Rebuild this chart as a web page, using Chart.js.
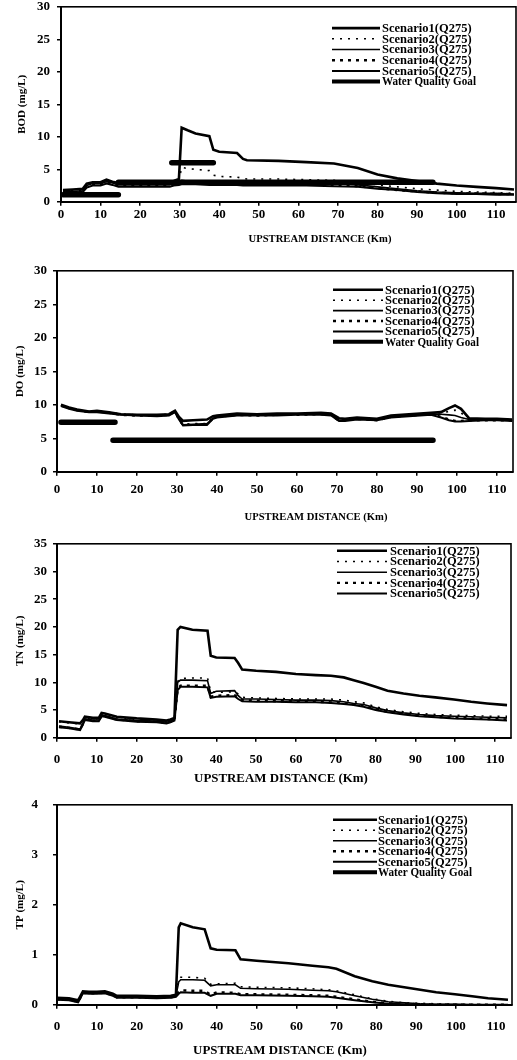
<!DOCTYPE html>
<html>
<head>
<meta charset="utf-8">
<script src="https://cdn.jsdelivr.net/npm/chart.js@4.4.1/dist/chart.umd.min.js"></script>
<style>
  body { margin: 0; background: #fff; width: 517px; height: 1060px; position: relative; overflow: hidden; }
  canvas { position: absolute; left: 0; }
</style>
</head>
<body>
<canvas id="bodChart"></canvas>
<canvas id="doChart"></canvas>
<canvas id="tnChart"></canvas>
<canvas id="tpChart"></canvas>
<script>
// series names
const scenarioLabels = ['Scenario1(Q275)', 'Scenario2(Q275)', 'Scenario3(Q275)', 'Scenario4(Q275)', 'Scenario5(Q275)'];
const goalLabel = 'Water Quality Goal';
const xTitleText = 'UPSTREAM DISTANCE (Km)';

// BOD (mg/L)
const bodDist = [0.5, 3, 5.5, 6.5, 8, 10, 11.5, 13, 14.5, 20, 27.5, 28.5, 29.8, 30.5, 32, 34, 37.5, 38.5, 40, 44.5, 46, 47, 55, 62, 69, 75, 80, 85, 90, 95, 100, 105, 110, 114.5];
const bodS1 = [1.8, 1.9, 2.0, 2.8, 3.0, 3.0, 3.4, 3.1, 2.9, 3.0, 3.0, 3.2, 3.5, 11.4, 11.0, 10.5, 10.1, 8.0, 7.7, 7.5, 6.6, 6.4, 6.3, 6.1, 5.9, 5.2, 4.2, 3.6, 3.2, 2.8, 2.5, 2.3, 2.1, 1.9];
const bodS2 = [1.6, 1.7, 1.8, 2.6, 2.8, 2.9, 3.2, 3.0, 2.7, 2.8, 2.8, 3.0, 3.2, 5.3, 5.1, 5.0, 4.8, 4.1, 3.9, 3.8, 3.6, 3.5, 3.5, 3.4, 3.3, 3.0, 2.6, 2.3, 2.0, 1.8, 1.6, 1.5, 1.4, 1.3];
const bodS3 = [1.5, 1.6, 1.7, 2.5, 2.8, 2.8, 3.1, 2.9, 2.6, 2.6, 2.6, 2.9, 3.0, 3.3, 3.2, 3.2, 3.1, 3.0, 3.0, 3.0, 2.9, 2.9, 2.9, 2.9, 2.8, 2.6, 2.3, 2.0, 1.7, 1.5, 1.4, 1.3, 1.3, 1.2];
const bodS4 = [1.4, 1.5, 1.6, 2.4, 2.7, 2.7, 3.0, 2.8, 2.5, 2.5, 2.5, 2.7, 2.8, 3.0, 3.0, 2.9, 2.9, 2.8, 2.8, 2.8, 2.7, 2.7, 2.7, 2.7, 2.6, 2.4, 2.1, 1.8, 1.6, 1.4, 1.3, 1.3, 1.2, 1.2];
const bodS5 = [1.3, 1.4, 1.5, 2.2, 2.5, 2.5, 2.8, 2.6, 2.3, 2.3, 2.3, 2.5, 2.6, 2.7, 2.7, 2.7, 2.6, 2.6, 2.6, 2.6, 2.5, 2.5, 2.5, 2.5, 2.4, 2.3, 2.0, 1.8, 1.5, 1.3, 1.2, 1.2, 1.1, 1.1];
const bodGoalX = [0.5, 14.5, 14.5, 14.5, 94, 94, 28, 38.5];
const bodGoalY = [1.1, 1.1, null, 3, 3, null, 6, 6];

// DO (mg/L)
const doDist = [1, 3, 5, 8, 10, 13, 16, 20, 25, 28, 29.5, 30.5, 31.5, 34, 37.5, 39, 40, 45, 50, 55, 60, 66, 68.5, 70.5, 72, 75, 80, 83.5, 88, 93.5, 96, 98, 99.5, 101, 103, 107, 110, 113.8];
const doS1 = [10.0, 9.6, 9.3, 9.0, 9.1, 8.9, 8.6, 8.5, 8.5, 8.6, 9.1, 8.2, 7.6, 7.7, 7.8, 8.3, 8.4, 8.7, 8.6, 8.7, 8.7, 8.8, 8.7, 8.0, 7.9, 8.1, 7.9, 8.4, 8.6, 8.8, 8.9, 9.5, 9.9, 9.4, 8.0, 7.9, 7.9, 7.8];
const doS2 = [10.0, 9.6, 9.3, 9.0, 9.1, 8.9, 8.6, 8.5, 8.5, 8.6, 9.1, 8.0, 7.1, 7.2, 7.2, 8.1, 8.3, 8.6, 8.5, 8.6, 8.6, 8.7, 8.6, 7.8, 7.8, 8.0, 7.8, 8.3, 8.5, 8.7, 8.8, 9.0, 9.2, 8.8, 7.9, 7.8, 7.8, 7.8];
const doS3 = [9.9, 9.5, 9.2, 9.0, 9.0, 8.8, 8.6, 8.5, 8.4, 8.5, 9.0, 7.9, 7.0, 7.1, 7.2, 8.0, 8.2, 8.5, 8.5, 8.5, 8.6, 8.6, 8.5, 7.7, 7.7, 7.9, 7.8, 8.2, 8.4, 8.6, 8.6, 8.5, 8.4, 8.1, 7.8, 7.8, 7.7, 7.7];
const doS4 = [9.9, 9.5, 9.2, 8.9, 9.0, 8.8, 8.5, 8.4, 8.4, 8.5, 9.0, 7.8, 7.0, 7.0, 7.1, 8.0, 8.2, 8.5, 8.4, 8.5, 8.5, 8.6, 8.5, 7.6, 7.7, 7.9, 7.7, 8.2, 8.4, 8.6, 8.2, 7.8, 7.6, 7.6, 7.7, 7.7, 7.7, 7.7];
const doS5 = [9.8, 9.4, 9.1, 8.9, 8.9, 8.7, 8.5, 8.4, 8.3, 8.4, 8.9, 7.8, 6.9, 7.0, 7.0, 7.9, 8.1, 8.4, 8.4, 8.4, 8.5, 8.5, 8.4, 7.6, 7.6, 7.8, 7.7, 8.1, 8.3, 8.5, 8.1, 7.7, 7.5, 7.5, 7.6, 7.7, 7.7, 7.6];
const doGoalX = [1, 14.5, 14.5, 14, 94];
const doGoalY = [7.4, 7.4, null, 4.7, 4.7];

// TN (mg/L)
const tnDist = [0.5, 3, 5.8, 6.5, 7, 9, 10.5, 11.2, 12, 15, 20, 25, 27.5, 28.5, 29.5, 30.3, 31, 34, 37.8, 38.6, 40, 44.6, 45.5, 46.5, 50, 55, 60, 65, 68.8, 72, 74.5, 77, 80, 83, 87, 91, 95, 99.7, 104, 108, 113];
const tnS1 = [3.0, 2.8, 2.6, 3.2, 3.8, 3.6, 3.6, 4.5, 4.4, 3.8, 3.5, 3.3, 3.1, 3.3, 3.6, 19.5, 20.0, 19.5, 19.3, 14.8, 14.5, 14.4, 13.5, 12.3, 12.1, 11.9, 11.5, 11.3, 11.2, 10.9, 10.4, 9.9, 9.2, 8.5, 8.0, 7.6, 7.3, 6.9, 6.5, 6.2, 5.9];
const tnS2 = [2.9, 2.7, 2.5, 3.1, 3.6, 3.4, 3.4, 4.3, 4.2, 3.6, 3.3, 3.1, 2.9, 3.1, 3.4, 10.2, 10.7, 10.8, 10.8, 8.3, 8.2, 8.3, 7.9, 7.3, 7.2, 7.1, 7.0, 7.0, 7.0, 6.8, 6.5, 6.3, 5.6, 5.1, 4.7, 4.4, 4.2, 4.1, 4.0, 3.9, 3.9];
const tnS3 = [2.1, 1.9, 1.6, 2.6, 3.4, 3.2, 3.2, 4.1, 4.0, 3.4, 3.1, 3.0, 2.8, 3.0, 3.3, 10.0, 10.4, 10.4, 10.3, 8.0, 8.4, 8.5, 7.6, 7.0, 7.0, 6.9, 6.8, 6.8, 6.7, 6.5, 6.2, 6.0, 5.4, 4.9, 4.5, 4.2, 4.0, 3.9, 3.8, 3.7, 3.6];
const tnS4 = [2.0, 1.8, 1.5, 2.5, 3.3, 3.1, 3.1, 4.0, 3.9, 3.3, 3.0, 2.9, 2.7, 2.9, 3.2, 8.8, 9.4, 9.4, 9.4, 7.4, 7.6, 7.7, 7.2, 6.8, 6.7, 6.6, 6.6, 6.5, 6.4, 6.2, 6.0, 5.8, 5.1, 4.7, 4.3, 4.0, 3.8, 3.6, 3.5, 3.4, 3.3];
const tnS5 = [1.9, 1.7, 1.4, 2.4, 3.2, 3.0, 3.0, 3.9, 3.8, 3.2, 2.9, 2.8, 2.6, 2.8, 3.1, 8.6, 9.2, 9.2, 9.1, 7.2, 7.4, 7.5, 7.0, 6.6, 6.5, 6.5, 6.4, 6.4, 6.3, 6.1, 5.9, 5.6, 5.0, 4.6, 4.2, 3.9, 3.7, 3.5, 3.4, 3.3, 3.1];

// TP (mg/L)
const tpDist = [0, 3, 5.3, 6.5, 8, 10, 12, 14, 15, 20, 25, 28.5, 29.8, 30.5, 31, 34, 37, 38.5, 40, 44.7, 46, 50, 58, 64, 68, 70, 74.6, 79, 83, 87, 91, 95, 99.7, 104, 108, 113];
const tpS1 = [0.14, 0.13, 0.09, 0.27, 0.26, 0.26, 0.27, 0.22, 0.18, 0.18, 0.17, 0.18, 0.2, 1.55, 1.63, 1.55, 1.51, 1.13, 1.1, 1.09, 0.91, 0.88, 0.83, 0.78, 0.75, 0.72, 0.57, 0.47, 0.4, 0.35, 0.3, 0.25, 0.21, 0.17, 0.13, 0.1];
const tpS2 = [0.13, 0.12, 0.08, 0.26, 0.25, 0.25, 0.26, 0.21, 0.17, 0.17, 0.16, 0.17, 0.19, 0.5, 0.55, 0.55, 0.53, 0.41, 0.42, 0.43, 0.36, 0.35, 0.34, 0.32, 0.3, 0.28, 0.2, 0.12, 0.07, 0.04, 0.03, 0.02, 0.01, 0.01, 0, 0];
const tpS3 = [0.12, 0.11, 0.07, 0.25, 0.24, 0.24, 0.25, 0.2, 0.16, 0.16, 0.15, 0.16, 0.18, 0.46, 0.5, 0.5, 0.49, 0.38, 0.4, 0.4, 0.33, 0.32, 0.31, 0.29, 0.28, 0.26, 0.18, 0.11, 0.06, 0.04, 0.02, 0.01, 0.01, 0, 0, 0];
const tpS4 = [0.11, 0.1, 0.06, 0.24, 0.23, 0.23, 0.24, 0.19, 0.15, 0.15, 0.14, 0.15, 0.17, 0.26, 0.29, 0.28, 0.28, 0.2, 0.25, 0.24, 0.21, 0.21, 0.2, 0.19, 0.18, 0.16, 0.11, 0.06, 0.03, 0.02, 0.01, 0, 0, 0, 0, 0];
const tpS5 = [0.1, 0.09, 0.05, 0.23, 0.22, 0.22, 0.23, 0.18, 0.14, 0.14, 0.13, 0.14, 0.16, 0.22, 0.25, 0.24, 0.24, 0.18, 0.22, 0.22, 0.19, 0.19, 0.18, 0.17, 0.16, 0.14, 0.09, 0.05, 0.02, 0.01, 0, 0, 0, 0, 0, 0];

// line look of each scenario (plot + legend)
const scenarioStyle = [
  { borderWidth: 2.6, borderDash: [] },
  { borderWidth: 1.6, borderDash: [2, 6] },
  { borderWidth: 1.6, borderDash: [] },
  { borderWidth: 2.4, borderDash: [3, 5] },
  { borderWidth: 2, borderDash: [] }
];

const serif = 'Liberation Serif';
const tickFontSize = 13;

function pts (xs, ys) {
  return xs.map((x, i) => ({ x: x, y: ys[i] }));
}

// legend drawn inside the plot, like the original figure
const insideLegend = {
  id: 'insideLegend',
  afterDraw (chart, args, o) {
    const ctx = chart.ctx;
    ctx.save();
    ctx.font = 'bold 12.5px "' + serif + '"';
    ctx.textBaseline = 'middle';
    ctx.fillStyle = '#000';
    ctx.strokeStyle = '#000';
    chart.data.datasets.forEach((ds, i) => {
      const y = o.y + i * o.rowH;
      ctx.beginPath();
      ctx.lineWidth = ds.legendWidth || ds.borderWidth;
      ctx.setLineDash(ds.borderDash || []);
      ctx.moveTo(o.x1, y);
      ctx.lineTo(o.x2, y);
      ctx.stroke();
      ctx.fillText(ds.label, o.tx, y + 0.5, 94);
    });
    ctx.restore();
  }
};

const frame = {
  id: 'frame',
  afterDatasetsDraw (chart) {
    const { ctx, chartArea: a } = chart;
    ctx.save();
    ctx.strokeStyle = '#000';
    ctx.lineWidth = 1.6;
    ctx.setLineDash([]);
    ctx.strokeRect(a.left, a.top, a.right - a.left, a.bottom - a.top);
    ctx.restore();
  }
};

const xTitle = {
  id: 'xTitle',
  afterDraw (chart, args, o) {
    const ctx = chart.ctx;
    ctx.save();
    ctx.font = 'bold ' + o.size + 'px "' + serif + '"';
    ctx.textAlign = 'center';
    ctx.textBaseline = 'middle';
    ctx.fillStyle = '#000';
    ctx.fillText(xTitleText, o.x, o.y);
    ctx.restore();
  }
};

function makeChart (p) {
  // place the canvas so the plot box lands where the figure has it
  const topOff = tickFontSize * 1.2 / 2 + p.yPad;
  const top = p.chartTop - topOff;
  const height = Math.ceil(p.titleY + 12 - top);
  const padBottom = height - 30 - (p.chartBottom - top);
  const canvas = document.getElementById(p.id);
  canvas.width = 517;
  canvas.height = height;
  canvas.style.top = top + 'px';

  const datasets = p.series.map((ys, i) => ({
    label: scenarioLabels[i],
    data: pts(p.dist, ys),
    borderColor: '#000',
    borderWidth: scenarioStyle[i].borderWidth,
    borderDash: scenarioStyle[i].borderDash,
    pointRadius: 0,
    tension: 0
  }));
  if (p.goalX) {
    datasets.push({
      label: goalLabel,
      data: pts(p.goalX, p.goalY),
      borderColor: '#000',
      borderWidth: 5.5,
      legendWidth: 4,
      borderCapStyle: 'round',
      pointRadius: 0,
      spanGaps: false
    });
  }

  new Chart(canvas, {
    type: 'line',
    data: { datasets: datasets },
    plugins: [frame, insideLegend, xTitle],
    options: {
      responsive: false,
      animation: false,
      devicePixelRatio: 1,
      layout: { padding: { left: p.padLeft, right: p.padRight, top: 0, bottom: padBottom } },
      plugins: {
        legend: { display: false },
        tooltip: { enabled: false },
        insideLegend: { x1: p.legend.x1, x2: p.legend.x2, tx: p.legend.tx, y: p.legend.y - top, rowH: p.legend.rowH },
        xTitle: { x: p.titleX, y: p.titleY - top, size: p.titleSize }
      },
      scales: {
        x: {
          type: 'linear',
          min: 0,
          max: p.xMax,
          afterFit: s => { s.height = 30; },
          ticks: { stepSize: 10, includeBounds: false, autoSkip: false, maxRotation: 0, padding: p.xPad,
            color: '#000', font: { family: serif, size: tickFontSize, weight: 'bold' } },
          grid: { drawOnChartArea: false, tickLength: 4, color: '#000', lineWidth: 1.5 },
          border: { color: '#000', width: 2 }
        },
        y: {
          min: 0,
          max: p.yMax,
          afterFit: s => { s.width = p.yWidth; },
          ticks: { stepSize: p.yStep, padding: p.yPad, color: '#000',
            font: { family: serif, size: tickFontSize, weight: 'bold' } },
          grid: { drawOnChartArea: false, tickLength: 4, color: '#000', lineWidth: 1.5 },
          border: { color: '#000', width: 2 },
          title: { display: true, text: p.yTitle, color: '#000', padding: 0,
            font: { family: serif, size: 11, weight: 'bold' } }
        }
      }
    }
  });
}

makeChart({
  id: 'bodChart', dist: bodDist, series: [bodS1, bodS2, bodS3, bodS4, bodS5],
  goalX: bodGoalX, goalY: bodGoalY, yTitle: 'BOD (mg/L)', yMax: 30, yStep: 5, xMax: 115,
  chartTop: 7, chartBottom: 202, padLeft: 16, yWidth: 45, padRight: 1, xPad: 1, yPad: 7,
  legend: { x1: 332, x2: 380, tx: 382, y: 28.3, rowH: 10.7 },
  titleX: 320, titleY: 239, titleSize: 10.6
});

makeChart({
  id: 'doChart', dist: doDist, series: [doS1, doS2, doS3, doS4, doS5],
  goalX: doGoalX, goalY: doGoalY, yTitle: 'DO (mg/L)', yMax: 30, yStep: 5, xMax: 114,
  chartTop: 271, chartBottom: 472, padLeft: 14, yWidth: 43, padRight: 4, xPad: 6, yPad: 6,
  legend: { x1: 333, x2: 383, tx: 385, y: 290, rowH: 10.4 },
  titleX: 316, titleY: 517, titleSize: 10.6
});

makeChart({
  id: 'tnChart', dist: tnDist, series: [tnS1, tnS2, tnS3, tnS4, tnS5],
  yTitle: 'TN (mg/L)', yMax: 35, yStep: 5, xMax: 114,
  chartTop: 544, chartBottom: 738, padLeft: 14, yWidth: 43, padRight: 6, xPad: 10, yPad: 6,
  legend: { x1: 337, x2: 387, tx: 390, y: 551, rowH: 10.7 },
  titleX: 281, titleY: 779, titleSize: 12.9
});

makeChart({
  id: 'tpChart', dist: tpDist, series: [tpS1, tpS2, tpS3, tpS4, tpS5],
  goalX: [], goalY: [], yTitle: 'TP (mg/L)', yMax: 4, yStep: 1, xMax: 114,
  chartTop: 805, chartBottom: 1005, padLeft: 14, yWidth: 43, padRight: 5, xPad: 10, yPad: 15,
  legend: { x1: 333, x2: 377, tx: 378, y: 820, rowH: 10.5 },
  titleX: 280, titleY: 1051, titleSize: 12.9
});
</script>
</body>
</html>
